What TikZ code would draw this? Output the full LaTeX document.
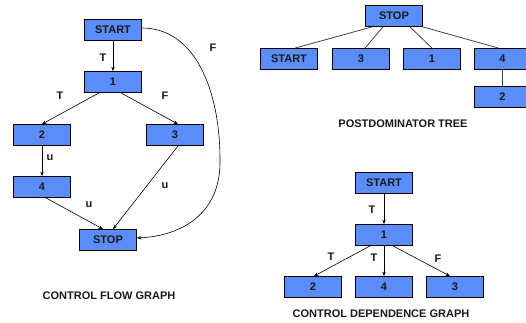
\documentclass[tikz,border=0pt]{standalone}
\usepackage{fontspec}
\setmainfont{Liberation Sans}
\usetikzlibrary{arrows.meta}
\definecolor{boxblue}{RGB}{91,141,250}
\definecolor{inkgray}{RGB}{25,25,25}
\tikzset{
  blk/.style={draw=black, line width=0.8pt, fill=boxblue, minimum width=57pt,
    minimum height=21pt, inner sep=0pt, font=\fontsize{11}{12}\selectfont\bfseries, text=inkgray},
  lbl/.style={inner sep=0pt, font=\fontsize{11}{12}\selectfont\bfseries, text=inkgray},
  captext/.style={inner sep=0pt, font=\fontsize{11}{12}\selectfont\bfseries, text=inkgray},
  arr/.style={draw=black, line width=0.6pt, -{Stealth[length=4.5pt,width=3.5pt]}},
  tree/.style={draw=black!75, line width=0.8pt}
}
\begin{document}
\begin{tikzpicture}[x=1pt,y=-1pt]
\useasboundingbox (0,0) rectangle (526,322);

% control flow graph
\node[blk] (cs) at (113,30) {START};
\node[blk] (c1) at (113,82) {1};
\node[blk] (c2) at (42,135) {2};
\node[blk] (c3) at (175,135) {3};
\node[blk] (c4) at (42,187) {4};
\node[blk] (cstop) at (108,240) {STOP};

\draw[arr] (cs.south) -- (c1.north);
\draw[arr] ([xshift=-14pt]c1.south) -- (c2.north);
\draw[arr] ([xshift=8pt]c1.south) -- ([xshift=3pt]c3.north);
\draw[arr] (c2.south) -- (c4.north);
\draw[arr] ([xshift=3pt]c3.south) -- ([xshift=5pt]cstop.north);
\draw[arr] ([xshift=4pt]c4.south) -- ([xshift=-5pt]cstop.north);
\draw[arr] ([yshift=2pt]cs.east) .. controls (195,28) and (220,90) .. (220,160)
  .. controls (221,215) and (180,236) .. ([yshift=2pt]cstop.east);

\node[lbl] (lt1) at (103,58) {T};
\node[lbl] (lt2) at (60,96) {T};
\node[lbl] (lf1) at (165,96) {F};
\node[lbl] (lf2) at (213,48) {F};
\node[lbl] (lu1) at (50,158) {u};
\node[lbl] (lu2) at (165,186) {u};
\node[lbl] (lu3) at (89,205) {u};
\node[captext] (cfgcap) at (109,296) {CONTROL FLOW GRAPH};

% postdominator tree
\node[blk] (ps) at (394,16) {STOP};
\node[blk] (pstart) at (289,59) {START};
\node[blk] (p3) at (361,59) {3};
\node[blk] (p1) at (432,59) {1};
\node[blk] (p4) at (502.5,59) {4};
\node[blk] (p2) at (502.5,97) {2};

\draw[tree] ([xshift=-22pt]ps.south) -- ([xshift=6pt]pstart.north);
\draw[tree] ([xshift=-11pt]ps.south) -- ([xshift=4pt]p3.north);
\draw[tree] ([xshift=16pt]ps.south) -- (p1.north);
\draw[tree] (ps.south east) -- ([xshift=-4pt]p4.north);
\draw[tree] (p4.south) -- (p2.north);
\node[captext] (pdcap) at (403,124) {POSTDOMINATOR TREE};

% control dependence graph
\node[blk] (ds) at (384,183) {START};
\node[blk] (d1) at (384,235) {1};
\node[blk] (d2) at (313,287) {2};
\node[blk] (d4) at (384,287) {4};
\node[blk] (d3) at (455,287) {3};

\draw[arr] (ds.south) -- (d1.north);
\draw[arr] ([xshift=-14pt]d1.south) -- ([xshift=1pt]d2.north);
\draw[arr] (d1.south) -- (d4.north);
\draw[arr] ([xshift=9pt]d1.south) -- ([xshift=-5pt]d3.north);

\node[lbl] (dt1) at (372,210) {T};
\node[lbl] (dt2) at (331,257) {T};
\node[lbl] (dt3) at (374,258) {T};
\node[lbl] (df1) at (438,259) {F};
\node[captext] (cdgcap) at (381,314) {CONTROL DEPENDENCE GRAPH};
\end{tikzpicture}
\end{document}
